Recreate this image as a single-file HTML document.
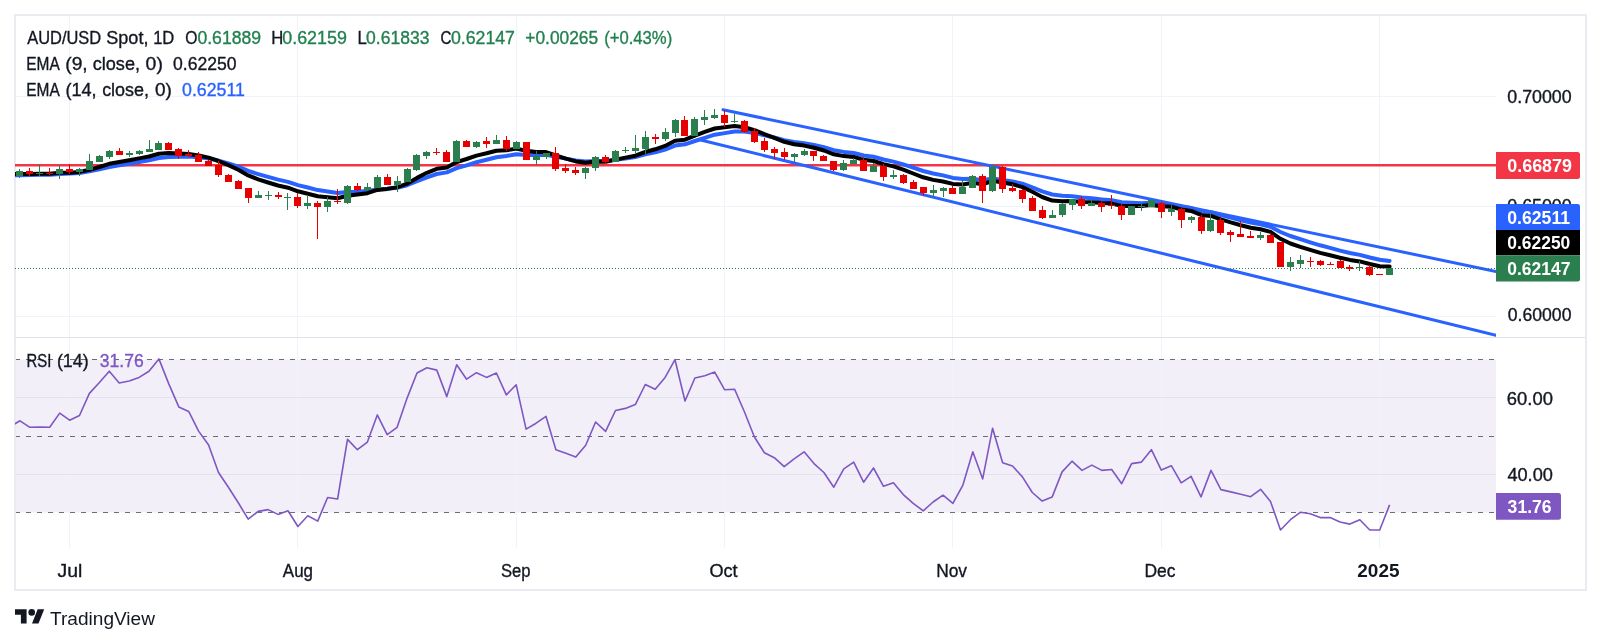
<!DOCTYPE html><html><head><meta charset="utf-8"><style>
html,body{margin:0;padding:0;background:#fff;width:1601px;height:644px;overflow:hidden;position:relative}
</style></head><body>
<svg width="1601" height="644" viewBox="0 0 1601 644" style="position:absolute;left:0;top:0;will-change:transform">
<rect x="15" y="359.5" width="1481" height="153" fill="#f2eff9"/>
<line x1="69.5" y1="15" x2="69.5" y2="548.5" stroke="#f0f3fa" stroke-width="1"/>
<line x1="297.5" y1="15" x2="297.5" y2="548.5" stroke="#f0f3fa" stroke-width="1"/>
<line x1="516.5" y1="15" x2="516.5" y2="548.5" stroke="#f0f3fa" stroke-width="1"/>
<line x1="724.5" y1="15" x2="724.5" y2="548.5" stroke="#f0f3fa" stroke-width="1"/>
<line x1="952.5" y1="15" x2="952.5" y2="548.5" stroke="#f0f3fa" stroke-width="1"/>
<line x1="1161.5" y1="15" x2="1161.5" y2="548.5" stroke="#f0f3fa" stroke-width="1"/>
<line x1="1379.5" y1="15" x2="1379.5" y2="548.5" stroke="#f0f3fa" stroke-width="1"/>
<line x1="15" y1="96.5" x2="1496" y2="96.5" stroke="#f0f3fa" stroke-width="1"/>
<line x1="15" y1="206.5" x2="1496" y2="206.5" stroke="#f0f3fa" stroke-width="1"/>
<line x1="15" y1="316.5" x2="1496" y2="316.5" stroke="#f0f3fa" stroke-width="1"/>
<line x1="15" y1="397.5" x2="1496" y2="397.5" stroke="#e4e1ee" stroke-width="1"/>
<line x1="15" y1="474.5" x2="1496" y2="474.5" stroke="#e4e1ee" stroke-width="1"/>
<line x1="15" y1="359.5" x2="1496" y2="359.5" stroke="#6b6e79" stroke-width="1" stroke-dasharray="5 6"/>
<line x1="15" y1="436.5" x2="1496" y2="436.5" stroke="#6b6e79" stroke-width="1" stroke-dasharray="5 6"/>
<line x1="15" y1="512.5" x2="1496" y2="512.5" stroke="#6b6e79" stroke-width="1" stroke-dasharray="5 6"/>
<rect x="15" y="15" width="1571" height="575" fill="none" stroke="#e9ebf1" stroke-width="2"/>
<line x1="15" y1="337.5" x2="1585" y2="337.5" stroke="#e0e3eb" stroke-width="1"/>
<defs><clipPath id="pc"><rect x="15" y="15" width="1481" height="323"/></clipPath><clipPath id="rc"><rect x="15" y="339" width="1481" height="210"/></clipPath></defs>
<g clip-path="url(#pc)">
<line x1="15" y1="165.2" x2="1496" y2="165.2" stroke="#f23645" stroke-width="2.6"/>
<line x1="723" y1="109.8" x2="1496" y2="271.5" stroke="#2962ff" stroke-width="3" stroke-linecap="round"/>
<line x1="700.6" y1="140" x2="1496" y2="335.4" stroke="#2962ff" stroke-width="3" stroke-linecap="round"/>
<polyline points="10,175.3 20.0,175.3 29.9,175.1 39.8,174.8 49.7,174.7 59.7,173.9 69.6,173.6 79.5,173.0 89.4,171.4 99.4,169.4 109.3,167.0 119.2,165.3 129.2,163.7 139.1,162.0 149.0,160.3 158.9,158.0 168.8,156.9 178.8,156.7 188.7,156.6 198.6,157.3 208.6,158.4 218.5,160.6 228.4,163.4 238.3,166.7 248.2,170.9 258.2,174.1 268.1,176.9 278.0,179.6 288.0,181.9 297.9,185.1 307.8,187.5 317.7,190.1 327.6,191.6 337.6,192.9 347.5,192.0 357.4,191.7 367.4,191.1 377.3,189.3 387.2,188.7 397.1,187.7 407.1,185.2 417.0,181.2 426.9,177.3 436.8,174.0 446.8,172.4 456.7,168.2 466.6,165.3 476.5,162.2 486.5,159.8 496.4,157.2 506.3,156.0 516.2,154.2 526.1,154.9 536.1,155.1 546.0,154.8 555.9,156.7 565.9,158.6 575.8,160.5 585.7,161.5 595.6,160.9 605.6,161.0 615.5,159.7 625.4,158.4 635.3,157.0 645.3,154.3 655.2,152.3 665.1,149.6 675.0,145.6 685.0,144.3 694.9,141.0 704.8,137.8 714.7,134.7 724.7,133.1 734.6,131.5 744.5,131.5 754.4,132.9 764.4,135.2 774.3,137.5 784.2,140.2 794.1,142.0 804.1,143.2 814.0,145.0 823.9,147.2 833.8,150.2 843.8,151.9 853.7,153.0 863.6,155.5 873.5,156.8 883.5,159.5 893.4,161.6 903.3,164.4 913.2,167.7 923.2,171.0 933.1,173.5 943.0,175.4 952.9,177.9 962.9,179.1 972.8,178.7 982.7,180.3 992.6,178.5 1002.6,179.9 1012.5,181.4 1022.4,183.7 1032.3,187.3 1042.2,191.3 1052.2,194.5 1062.1,195.8 1072.0,196.2 1082.0,197.5 1091.9,198.3 1101.8,199.4 1111.7,200.3 1121.7,202.2 1131.6,202.8 1141.5,203.2 1151.4,202.8 1161.3,204.0 1171.3,204.7 1181.2,206.7 1191.1,208.1 1201.0,211.1 1211.0,212.3 1220.9,215.0 1230.8,217.6 1240.8,220.2 1250.7,222.5 1260.6,224.2 1270.5,226.7 1280.5,232.0 1290.4,236.0 1300.3,239.2 1310.2,242.3 1320.2,245.3 1330.1,247.9 1340.0,250.6 1349.9,253.0 1359.8,254.9 1369.8,257.5 1379.7,259.8 1389.6,260.9" fill="none" stroke="#2962ff" stroke-width="4" stroke-linejoin="round" stroke-linecap="round"/>
<polyline points="10,174.1 20.0,174.1 29.9,174.0 39.8,173.8 49.7,173.8 59.7,172.8 69.6,172.7 79.5,171.9 89.4,169.8 99.4,167.0 109.3,163.8 119.2,162.0 129.2,160.2 139.1,158.4 149.0,156.5 158.9,153.8 168.8,153.0 178.8,153.5 188.7,154.0 198.6,155.5 208.6,157.6 218.5,161.0 228.4,165.1 238.3,169.8 248.2,175.4 258.2,179.4 268.1,182.5 278.0,185.5 288.0,187.7 297.9,191.3 307.8,193.7 317.7,196.3 327.6,197.3 337.6,198.2 347.5,195.8 357.4,194.6 367.4,193.2 377.3,189.9 387.2,188.9 397.1,187.3 407.1,183.7 417.0,177.9 426.9,172.8 436.8,168.8 446.8,167.4 456.7,162.1 466.6,159.0 476.5,155.6 486.5,153.3 496.4,150.7 506.3,150.2 516.2,148.6 526.1,150.8 536.1,151.9 546.0,152.1 555.9,155.5 565.9,158.6 575.8,161.4 585.7,162.8 595.6,161.6 605.6,161.7 615.5,159.6 625.4,157.6 635.3,155.7 645.3,152.0 655.2,149.3 665.1,145.9 675.0,140.7 685.0,139.7 694.9,135.6 704.8,131.9 714.7,128.5 724.7,127.3 734.6,126.1 744.5,127.2 754.4,130.1 764.4,134.1 774.3,137.8 784.2,141.8 794.1,144.2 804.1,145.6 814.0,147.8 823.9,150.5 833.8,154.3 843.8,156.1 853.7,156.9 863.6,159.8 873.5,161.0 883.5,164.1 893.4,166.4 903.3,169.7 913.2,173.5 923.2,177.3 933.1,179.9 943.0,181.5 952.9,183.9 962.9,184.5 972.8,182.8 982.7,184.4 992.6,180.9 1002.6,182.5 1012.5,184.2 1022.4,187.1 1032.3,191.8 1042.2,197.0 1052.2,200.6 1062.1,201.3 1072.0,200.9 1082.0,201.9 1091.9,202.2 1101.8,203.1 1111.7,203.6 1121.7,205.9 1131.6,206.0 1141.5,206.0 1151.4,204.9 1161.3,206.2 1171.3,206.8 1181.2,209.4 1191.1,210.9 1201.0,214.9 1211.0,215.9 1220.9,219.3 1230.8,222.4 1240.8,225.2 1250.7,227.7 1260.6,229.2 1270.5,231.9 1280.5,238.8 1290.4,243.5 1300.3,246.9 1310.2,249.9 1320.2,252.9 1330.1,255.3 1340.0,257.8 1349.9,259.9 1359.8,261.4 1369.8,264.0 1379.7,266.2 1389.6,266.6" fill="none" stroke="#000" stroke-width="4" stroke-linejoin="round" stroke-linecap="round"/>
<rect x="19" y="169" width="1" height="9" fill="#2b7f4f"/>
<rect x="16" y="171" width="7" height="5" fill="#2b7f4f"/>
<rect x="29" y="168" width="1" height="8" fill="#e60000"/>
<rect x="26" y="171" width="7" height="3" fill="#e60000"/>
<rect x="39" y="164" width="1" height="12" fill="#2b7f4f"/>
<rect x="36" y="173" width="7" height="1" fill="#2b7f4f"/>
<rect x="49" y="168" width="1" height="7" fill="#e60000"/>
<rect x="46" y="173" width="7" height="1" fill="#e60000"/>
<rect x="59" y="165" width="1" height="14" fill="#2b7f4f"/>
<rect x="56" y="169" width="7" height="5" fill="#2b7f4f"/>
<rect x="69" y="164" width="1" height="10" fill="#e60000"/>
<rect x="66" y="169" width="7" height="3" fill="#e60000"/>
<rect x="79" y="168" width="1" height="8" fill="#2b7f4f"/>
<rect x="76" y="169" width="7" height="3" fill="#2b7f4f"/>
<rect x="89" y="154" width="1" height="16" fill="#2b7f4f"/>
<rect x="86" y="161" width="7" height="9" fill="#2b7f4f"/>
<rect x="99" y="155" width="1" height="7" fill="#2b7f4f"/>
<rect x="96" y="156" width="7" height="6" fill="#2b7f4f"/>
<rect x="109" y="150" width="1" height="9" fill="#2b7f4f"/>
<rect x="106" y="151" width="7" height="6" fill="#2b7f4f"/>
<rect x="119" y="148" width="1" height="7" fill="#e60000"/>
<rect x="116" y="151" width="7" height="4" fill="#e60000"/>
<rect x="129" y="151" width="1" height="6" fill="#2b7f4f"/>
<rect x="126" y="153" width="7" height="2" fill="#2b7f4f"/>
<rect x="139" y="150" width="1" height="5" fill="#2b7f4f"/>
<rect x="136" y="151" width="7" height="3" fill="#2b7f4f"/>
<rect x="149" y="140" width="1" height="12" fill="#2b7f4f"/>
<rect x="146" y="149" width="7" height="3" fill="#2b7f4f"/>
<rect x="158" y="141" width="1" height="9" fill="#2b7f4f"/>
<rect x="155" y="143" width="7" height="7" fill="#2b7f4f"/>
<rect x="168" y="142" width="1" height="8" fill="#e60000"/>
<rect x="165" y="143" width="7" height="7" fill="#e60000"/>
<rect x="178" y="148" width="1" height="11" fill="#e60000"/>
<rect x="175" y="149" width="7" height="7" fill="#e60000"/>
<rect x="188" y="150" width="1" height="7" fill="#e60000"/>
<rect x="185" y="154" width="7" height="2" fill="#e60000"/>
<rect x="198" y="152" width="1" height="10" fill="#e60000"/>
<rect x="195" y="155" width="7" height="7" fill="#e60000"/>
<rect x="208" y="160" width="1" height="6" fill="#e60000"/>
<rect x="205" y="161" width="7" height="5" fill="#e60000"/>
<rect x="218" y="161" width="1" height="16" fill="#e60000"/>
<rect x="215" y="165" width="7" height="10" fill="#e60000"/>
<rect x="228" y="174" width="1" height="8" fill="#e60000"/>
<rect x="225" y="175" width="7" height="7" fill="#e60000"/>
<rect x="238" y="180" width="1" height="9" fill="#e60000"/>
<rect x="235" y="181" width="7" height="8" fill="#e60000"/>
<rect x="248" y="188" width="1" height="15" fill="#e60000"/>
<rect x="245" y="188" width="7" height="10" fill="#e60000"/>
<rect x="258" y="191" width="1" height="7" fill="#2b7f4f"/>
<rect x="255" y="195" width="7" height="3" fill="#2b7f4f"/>
<rect x="268" y="191" width="1" height="9" fill="#2b7f4f"/>
<rect x="265" y="195" width="7" height="1" fill="#2b7f4f"/>
<rect x="278" y="192" width="1" height="7" fill="#e60000"/>
<rect x="275" y="195" width="7" height="2" fill="#e60000"/>
<rect x="287" y="193" width="1" height="17" fill="#2b7f4f"/>
<rect x="284" y="197" width="7" height="1" fill="#2b7f4f"/>
<rect x="297" y="193" width="1" height="15" fill="#e60000"/>
<rect x="294" y="197" width="7" height="9" fill="#e60000"/>
<rect x="307" y="195" width="1" height="14" fill="#2b7f4f"/>
<rect x="304" y="203" width="7" height="3" fill="#2b7f4f"/>
<rect x="317" y="201" width="1" height="38" fill="#e60000"/>
<rect x="314" y="203" width="7" height="4" fill="#e60000"/>
<rect x="327" y="197" width="1" height="15" fill="#2b7f4f"/>
<rect x="324" y="201" width="7" height="6" fill="#2b7f4f"/>
<rect x="337" y="189" width="1" height="15" fill="#e60000"/>
<rect x="334" y="201" width="7" height="1" fill="#e60000"/>
<rect x="347" y="185" width="1" height="19" fill="#2b7f4f"/>
<rect x="344" y="186" width="7" height="17" fill="#2b7f4f"/>
<rect x="357" y="183" width="1" height="8" fill="#e60000"/>
<rect x="354" y="186" width="7" height="4" fill="#e60000"/>
<rect x="367" y="183" width="1" height="8" fill="#2b7f4f"/>
<rect x="364" y="187" width="7" height="3" fill="#2b7f4f"/>
<rect x="377" y="175" width="1" height="13" fill="#2b7f4f"/>
<rect x="374" y="177" width="7" height="11" fill="#2b7f4f"/>
<rect x="387" y="174" width="1" height="11" fill="#e60000"/>
<rect x="384" y="177" width="7" height="8" fill="#e60000"/>
<rect x="397" y="176" width="1" height="16" fill="#2b7f4f"/>
<rect x="394" y="181" width="7" height="4" fill="#2b7f4f"/>
<rect x="407" y="168" width="1" height="14" fill="#2b7f4f"/>
<rect x="404" y="169" width="7" height="13" fill="#2b7f4f"/>
<rect x="416" y="154" width="1" height="17" fill="#2b7f4f"/>
<rect x="413" y="155" width="7" height="15" fill="#2b7f4f"/>
<rect x="426" y="151" width="1" height="8" fill="#2b7f4f"/>
<rect x="423" y="152" width="7" height="4" fill="#2b7f4f"/>
<rect x="436" y="148" width="1" height="7" fill="#e60000"/>
<rect x="433" y="152" width="7" height="1" fill="#e60000"/>
<rect x="446" y="150" width="1" height="12" fill="#e60000"/>
<rect x="443" y="152" width="7" height="10" fill="#e60000"/>
<rect x="456" y="140" width="1" height="22" fill="#2b7f4f"/>
<rect x="453" y="141" width="7" height="21" fill="#2b7f4f"/>
<rect x="466" y="140" width="1" height="7" fill="#e60000"/>
<rect x="463" y="141" width="7" height="6" fill="#e60000"/>
<rect x="476" y="141" width="1" height="7" fill="#2b7f4f"/>
<rect x="473" y="142" width="7" height="5" fill="#2b7f4f"/>
<rect x="486" y="137" width="1" height="11" fill="#e60000"/>
<rect x="483" y="141" width="7" height="3" fill="#e60000"/>
<rect x="496" y="135" width="1" height="9" fill="#2b7f4f"/>
<rect x="493" y="140" width="7" height="4" fill="#2b7f4f"/>
<rect x="506" y="136" width="1" height="15" fill="#e60000"/>
<rect x="503" y="140" width="7" height="9" fill="#e60000"/>
<rect x="516" y="141" width="1" height="8" fill="#2b7f4f"/>
<rect x="513" y="142" width="7" height="7" fill="#2b7f4f"/>
<rect x="526" y="142" width="1" height="18" fill="#e60000"/>
<rect x="523" y="142" width="7" height="18" fill="#e60000"/>
<rect x="536" y="151" width="1" height="14" fill="#2b7f4f"/>
<rect x="533" y="156" width="7" height="4" fill="#2b7f4f"/>
<rect x="546" y="153" width="1" height="6" fill="#2b7f4f"/>
<rect x="543" y="153" width="7" height="4" fill="#2b7f4f"/>
<rect x="555" y="147" width="1" height="24" fill="#e60000"/>
<rect x="552" y="153" width="7" height="16" fill="#e60000"/>
<rect x="565" y="164" width="1" height="9" fill="#e60000"/>
<rect x="562" y="168" width="7" height="3" fill="#e60000"/>
<rect x="575" y="167" width="1" height="8" fill="#e60000"/>
<rect x="572" y="170" width="7" height="3" fill="#e60000"/>
<rect x="585" y="167" width="1" height="12" fill="#2b7f4f"/>
<rect x="582" y="168" width="7" height="5" fill="#2b7f4f"/>
<rect x="595" y="156" width="1" height="15" fill="#2b7f4f"/>
<rect x="592" y="157" width="7" height="11" fill="#2b7f4f"/>
<rect x="605" y="155" width="1" height="9" fill="#e60000"/>
<rect x="602" y="157" width="7" height="5" fill="#e60000"/>
<rect x="615" y="150" width="1" height="12" fill="#2b7f4f"/>
<rect x="612" y="151" width="7" height="11" fill="#2b7f4f"/>
<rect x="625" y="147" width="1" height="6" fill="#2b7f4f"/>
<rect x="622" y="150" width="7" height="1" fill="#2b7f4f"/>
<rect x="635" y="135" width="1" height="18" fill="#2b7f4f"/>
<rect x="632" y="148" width="7" height="3" fill="#2b7f4f"/>
<rect x="645" y="131" width="1" height="23" fill="#2b7f4f"/>
<rect x="642" y="137" width="7" height="12" fill="#2b7f4f"/>
<rect x="655" y="134" width="1" height="10" fill="#e60000"/>
<rect x="652" y="137" width="7" height="2" fill="#e60000"/>
<rect x="665" y="128" width="1" height="13" fill="#2b7f4f"/>
<rect x="662" y="132" width="7" height="7" fill="#2b7f4f"/>
<rect x="675" y="119" width="1" height="18" fill="#2b7f4f"/>
<rect x="672" y="120" width="7" height="13" fill="#2b7f4f"/>
<rect x="684" y="116" width="1" height="20" fill="#e60000"/>
<rect x="681" y="120" width="7" height="16" fill="#e60000"/>
<rect x="694" y="117" width="1" height="19" fill="#2b7f4f"/>
<rect x="691" y="119" width="7" height="17" fill="#2b7f4f"/>
<rect x="704" y="110" width="1" height="15" fill="#2b7f4f"/>
<rect x="701" y="117" width="7" height="3" fill="#2b7f4f"/>
<rect x="714" y="109" width="1" height="10" fill="#2b7f4f"/>
<rect x="711" y="115" width="7" height="3" fill="#2b7f4f"/>
<rect x="724" y="110" width="1" height="17" fill="#e60000"/>
<rect x="721" y="115" width="7" height="8" fill="#e60000"/>
<rect x="734" y="114" width="1" height="9" fill="#2b7f4f"/>
<rect x="731" y="121" width="7" height="1" fill="#2b7f4f"/>
<rect x="744" y="120" width="1" height="13" fill="#e60000"/>
<rect x="741" y="121" width="7" height="11" fill="#e60000"/>
<rect x="754" y="128" width="1" height="15" fill="#e60000"/>
<rect x="751" y="131" width="7" height="11" fill="#e60000"/>
<rect x="764" y="138" width="1" height="14" fill="#e60000"/>
<rect x="761" y="141" width="7" height="9" fill="#e60000"/>
<rect x="774" y="147" width="1" height="12" fill="#e60000"/>
<rect x="771" y="149" width="7" height="4" fill="#e60000"/>
<rect x="784" y="148" width="1" height="12" fill="#e60000"/>
<rect x="781" y="152" width="7" height="5" fill="#e60000"/>
<rect x="794" y="153" width="1" height="9" fill="#2b7f4f"/>
<rect x="791" y="154" width="7" height="3" fill="#2b7f4f"/>
<rect x="804" y="149" width="1" height="7" fill="#2b7f4f"/>
<rect x="801" y="151" width="7" height="4" fill="#2b7f4f"/>
<rect x="813" y="151" width="1" height="10" fill="#e60000"/>
<rect x="810" y="151" width="7" height="5" fill="#e60000"/>
<rect x="823" y="155" width="1" height="6" fill="#e60000"/>
<rect x="820" y="156" width="7" height="5" fill="#e60000"/>
<rect x="833" y="161" width="1" height="10" fill="#e60000"/>
<rect x="830" y="161" width="7" height="9" fill="#e60000"/>
<rect x="843" y="160" width="1" height="11" fill="#2b7f4f"/>
<rect x="840" y="163" width="7" height="7" fill="#2b7f4f"/>
<rect x="853" y="158" width="1" height="6" fill="#2b7f4f"/>
<rect x="850" y="160" width="7" height="4" fill="#2b7f4f"/>
<rect x="863" y="157" width="1" height="14" fill="#e60000"/>
<rect x="860" y="160" width="7" height="11" fill="#e60000"/>
<rect x="873" y="163" width="1" height="9" fill="#2b7f4f"/>
<rect x="870" y="166" width="7" height="6" fill="#2b7f4f"/>
<rect x="883" y="164" width="1" height="17" fill="#e60000"/>
<rect x="880" y="166" width="7" height="11" fill="#e60000"/>
<rect x="893" y="170" width="1" height="9" fill="#2b7f4f"/>
<rect x="890" y="175" width="7" height="2" fill="#2b7f4f"/>
<rect x="903" y="174" width="1" height="10" fill="#e60000"/>
<rect x="900" y="175" width="7" height="8" fill="#e60000"/>
<rect x="913" y="180" width="1" height="9" fill="#e60000"/>
<rect x="910" y="182" width="7" height="7" fill="#e60000"/>
<rect x="923" y="187" width="1" height="9" fill="#e60000"/>
<rect x="920" y="187" width="7" height="6" fill="#e60000"/>
<rect x="933" y="185" width="1" height="12" fill="#2b7f4f"/>
<rect x="930" y="190" width="7" height="3" fill="#2b7f4f"/>
<rect x="943" y="187" width="1" height="10" fill="#2b7f4f"/>
<rect x="940" y="188" width="7" height="3" fill="#2b7f4f"/>
<rect x="952" y="186" width="1" height="8" fill="#e60000"/>
<rect x="949" y="188" width="7" height="6" fill="#e60000"/>
<rect x="962" y="180" width="1" height="14" fill="#2b7f4f"/>
<rect x="959" y="187" width="7" height="7" fill="#2b7f4f"/>
<rect x="972" y="175" width="1" height="13" fill="#2b7f4f"/>
<rect x="969" y="176" width="7" height="12" fill="#2b7f4f"/>
<rect x="982" y="174" width="1" height="29" fill="#e60000"/>
<rect x="979" y="176" width="7" height="15" fill="#e60000"/>
<rect x="992" y="165" width="1" height="27" fill="#2b7f4f"/>
<rect x="989" y="167" width="7" height="24" fill="#2b7f4f"/>
<rect x="1002" y="166" width="1" height="27" fill="#e60000"/>
<rect x="999" y="167" width="7" height="22" fill="#e60000"/>
<rect x="1012" y="184" width="1" height="8" fill="#e60000"/>
<rect x="1009" y="188" width="7" height="3" fill="#e60000"/>
<rect x="1022" y="189" width="1" height="14" fill="#e60000"/>
<rect x="1019" y="190" width="7" height="9" fill="#e60000"/>
<rect x="1032" y="196" width="1" height="15" fill="#e60000"/>
<rect x="1029" y="198" width="7" height="13" fill="#e60000"/>
<rect x="1042" y="206" width="1" height="13" fill="#e60000"/>
<rect x="1039" y="210" width="7" height="8" fill="#e60000"/>
<rect x="1052" y="210" width="1" height="8" fill="#2b7f4f"/>
<rect x="1049" y="215" width="7" height="3" fill="#2b7f4f"/>
<rect x="1062" y="203" width="1" height="14" fill="#2b7f4f"/>
<rect x="1059" y="204" width="7" height="11" fill="#2b7f4f"/>
<rect x="1072" y="199" width="1" height="11" fill="#2b7f4f"/>
<rect x="1069" y="199" width="7" height="6" fill="#2b7f4f"/>
<rect x="1081" y="196" width="1" height="13" fill="#e60000"/>
<rect x="1078" y="199" width="7" height="7" fill="#e60000"/>
<rect x="1091" y="199" width="1" height="7" fill="#2b7f4f"/>
<rect x="1088" y="203" width="7" height="3" fill="#2b7f4f"/>
<rect x="1101" y="201" width="1" height="11" fill="#e60000"/>
<rect x="1098" y="203" width="7" height="4" fill="#e60000"/>
<rect x="1111" y="195" width="1" height="14" fill="#e60000"/>
<rect x="1108" y="205" width="7" height="1" fill="#e60000"/>
<rect x="1121" y="204" width="1" height="16" fill="#e60000"/>
<rect x="1118" y="206" width="7" height="9" fill="#e60000"/>
<rect x="1131" y="206" width="1" height="9" fill="#2b7f4f"/>
<rect x="1128" y="206" width="7" height="9" fill="#2b7f4f"/>
<rect x="1141" y="204" width="1" height="7" fill="#2b7f4f"/>
<rect x="1138" y="206" width="7" height="1" fill="#2b7f4f"/>
<rect x="1151" y="200" width="1" height="7" fill="#2b7f4f"/>
<rect x="1148" y="200" width="7" height="7" fill="#2b7f4f"/>
<rect x="1161" y="202" width="1" height="16" fill="#e60000"/>
<rect x="1158" y="203" width="7" height="9" fill="#e60000"/>
<rect x="1171" y="205" width="1" height="11" fill="#2b7f4f"/>
<rect x="1168" y="209" width="7" height="3" fill="#2b7f4f"/>
<rect x="1181" y="208" width="1" height="20" fill="#e60000"/>
<rect x="1178" y="209" width="7" height="11" fill="#e60000"/>
<rect x="1191" y="216" width="1" height="7" fill="#2b7f4f"/>
<rect x="1188" y="217" width="7" height="3" fill="#2b7f4f"/>
<rect x="1201" y="215" width="1" height="19" fill="#e60000"/>
<rect x="1198" y="217" width="7" height="14" fill="#e60000"/>
<rect x="1210" y="212" width="1" height="20" fill="#2b7f4f"/>
<rect x="1207" y="220" width="7" height="11" fill="#2b7f4f"/>
<rect x="1220" y="218" width="1" height="17" fill="#e60000"/>
<rect x="1217" y="220" width="7" height="13" fill="#e60000"/>
<rect x="1230" y="230" width="1" height="12" fill="#e60000"/>
<rect x="1227" y="232" width="7" height="3" fill="#e60000"/>
<rect x="1240" y="221" width="1" height="16" fill="#e60000"/>
<rect x="1237" y="234" width="7" height="3" fill="#e60000"/>
<rect x="1250" y="231" width="1" height="7" fill="#e60000"/>
<rect x="1247" y="236" width="7" height="2" fill="#e60000"/>
<rect x="1260" y="232" width="1" height="8" fill="#2b7f4f"/>
<rect x="1257" y="235" width="7" height="3" fill="#2b7f4f"/>
<rect x="1270" y="233" width="1" height="10" fill="#e60000"/>
<rect x="1267" y="235" width="7" height="8" fill="#e60000"/>
<rect x="1280" y="242" width="1" height="25" fill="#e60000"/>
<rect x="1277" y="242" width="7" height="25" fill="#e60000"/>
<rect x="1290" y="257" width="1" height="14" fill="#2b7f4f"/>
<rect x="1287" y="262" width="7" height="5" fill="#2b7f4f"/>
<rect x="1300" y="255" width="1" height="13" fill="#2b7f4f"/>
<rect x="1297" y="260" width="7" height="4" fill="#2b7f4f"/>
<rect x="1310" y="257" width="1" height="10" fill="#e60000"/>
<rect x="1307" y="261" width="7" height="1" fill="#e60000"/>
<rect x="1320" y="260" width="1" height="6" fill="#e60000"/>
<rect x="1317" y="261" width="7" height="4" fill="#e60000"/>
<rect x="1330" y="262" width="1" height="3" fill="#e60000"/>
<rect x="1327" y="264" width="7" height="1" fill="#e60000"/>
<rect x="1340" y="260" width="1" height="8" fill="#e60000"/>
<rect x="1337" y="261" width="7" height="7" fill="#e60000"/>
<rect x="1349" y="265" width="1" height="6" fill="#e60000"/>
<rect x="1346" y="267" width="7" height="2" fill="#e60000"/>
<rect x="1359" y="261" width="1" height="10" fill="#2b7f4f"/>
<rect x="1356" y="267" width="7" height="1" fill="#2b7f4f"/>
<rect x="1369" y="265" width="1" height="11" fill="#e60000"/>
<rect x="1366" y="267" width="7" height="8" fill="#e60000"/>
<rect x="1379" y="274" width="1" height="1" fill="#e60000"/>
<rect x="1376" y="274" width="7" height="1" fill="#e60000"/>
<rect x="1389" y="268" width="1" height="7" fill="#2b7f4f"/>
<rect x="1386" y="268" width="7" height="7" fill="#2b7f4f"/>
<line x1="15" y1="268.5" x2="1496" y2="268.5" stroke="#2a7f52" stroke-width="1" stroke-dasharray="1 2"/>
</g>
<polyline clip-path="url(#rc)" points="10,426.8 20.0,420.8 29.9,427.3 39.8,427.0 49.7,427.3 59.7,413.1 69.6,420.2 79.5,415.5 89.4,393.4 99.4,382.5 109.3,371.2 119.2,383.0 129.2,381.0 139.1,377.4 149.0,371.2 158.9,358.9 168.8,383.9 178.8,406.9 188.7,411.4 198.6,431.1 208.6,445.0 218.5,472.5 228.4,487.2 238.3,502.8 248.2,519.1 258.2,511.4 268.1,509.6 278.0,514.4 288.0,510.8 297.9,526.5 307.8,515.8 317.7,521.1 327.6,497.5 337.6,499.0 347.5,439.4 357.4,449.7 367.4,442.1 377.3,414.9 387.2,434.7 397.1,427.3 407.1,398.1 417.0,373.0 426.9,367.7 436.8,370.1 446.8,396.6 456.7,364.8 466.6,379.2 476.5,372.7 486.5,377.4 496.4,373.0 506.3,394.9 516.2,384.8 526.1,429.1 536.1,423.2 546.0,416.4 555.9,449.7 565.9,453.3 575.8,457.1 585.7,445.3 595.6,422.0 605.6,431.4 615.5,410.5 625.4,408.4 635.3,404.6 645.3,384.5 655.2,389.2 665.1,377.4 675.0,359.7 685.0,401.0 694.9,378.0 704.8,375.7 714.7,372.1 724.7,389.8 734.6,389.2 744.5,412.0 754.4,437.0 764.4,452.7 774.3,457.7 784.2,466.6 794.1,458.9 804.1,451.8 814.0,463.6 823.9,472.5 833.8,487.2 843.8,468.9 853.7,462.1 863.6,482.2 873.5,468.0 883.5,486.3 893.4,482.8 903.3,494.6 913.2,503.4 923.2,510.8 933.1,502.0 943.0,495.2 952.9,503.4 962.9,485.1 972.8,451.8 982.7,478.9 992.6,428.2 1002.6,462.7 1012.5,466.0 1022.4,476.9 1032.3,492.5 1042.2,501.1 1052.2,496.9 1062.1,471.9 1072.0,461.2 1082.0,470.4 1091.9,465.1 1101.8,470.4 1111.7,469.5 1121.7,483.7 1131.6,463.6 1141.5,462.1 1151.4,449.7 1161.3,470.1 1171.3,465.7 1181.2,482.8 1191.1,476.3 1201.0,496.9 1211.0,470.4 1220.9,489.6 1230.8,491.9 1240.8,494.3 1250.7,496.7 1260.6,489.3 1270.5,501.4 1280.5,530.0 1290.4,519.7 1300.3,512.3 1310.2,513.8 1320.2,517.6 1330.1,517.6 1340.0,522.0 1349.9,524.1 1359.8,519.7 1369.8,530.0 1379.7,530.0 1389.6,504.9" fill="none" stroke="#7e57c2" stroke-width="1.6" stroke-linejoin="round"/>
<g font-family="Liberation Sans, sans-serif">
<text x="27.27" y="43.7" font-size="18.3" fill="#131722" font-weight="normal" text-anchor="start" textLength="73.92" lengthAdjust="spacingAndGlyphs" stroke="#131722" stroke-width="0.35">AUD/USD</text>
<text x="106.28" y="43.7" font-size="18.3" fill="#131722" font-weight="normal" text-anchor="start" textLength="42.14" lengthAdjust="spacingAndGlyphs" stroke="#131722" stroke-width="0.35">Spot,</text>
<text x="153.14" y="43.7" font-size="18.3" fill="#131722" font-weight="normal" text-anchor="start" textLength="21.15" lengthAdjust="spacingAndGlyphs" stroke="#131722" stroke-width="0.35">1D</text>
<text x="185.16" y="43.7" font-size="18.3" fill="#131722" font-weight="normal" text-anchor="start" textLength="12.19" lengthAdjust="spacingAndGlyphs" stroke="#131722" stroke-width="0.35">O</text>
<text x="197.41" y="43.7" font-size="18.3" fill="#22804f" font-weight="normal" text-anchor="start" textLength="63.72" lengthAdjust="spacingAndGlyphs" stroke="#22804f" stroke-width="0.35">0.61889</text>
<text x="271.23" y="43.7" font-size="18.3" fill="#131722" font-weight="normal" text-anchor="start" textLength="12.02" lengthAdjust="spacingAndGlyphs" stroke="#131722" stroke-width="0.35">H</text>
<text x="282.30" y="43.7" font-size="18.3" fill="#22804f" font-weight="normal" text-anchor="start" textLength="64.54" lengthAdjust="spacingAndGlyphs" stroke="#22804f" stroke-width="0.35">0.62159</text>
<text x="357.52" y="43.7" font-size="18.3" fill="#131722" font-weight="normal" text-anchor="start" textLength="9.33" lengthAdjust="spacingAndGlyphs" stroke="#131722" stroke-width="0.35">L</text>
<text x="366.12" y="43.7" font-size="18.3" fill="#22804f" font-weight="normal" text-anchor="start" textLength="63.35" lengthAdjust="spacingAndGlyphs" stroke="#22804f" stroke-width="0.35">0.61833</text>
<text x="440.43" y="43.7" font-size="18.3" fill="#131722" font-weight="normal" text-anchor="start" textLength="10.95" lengthAdjust="spacingAndGlyphs" stroke="#131722" stroke-width="0.35">C</text>
<text x="450.91" y="43.7" font-size="18.3" fill="#22804f" font-weight="normal" text-anchor="start" textLength="64.08" lengthAdjust="spacingAndGlyphs" stroke="#22804f" stroke-width="0.35">0.62147</text>
<text x="525.35" y="43.7" font-size="18.3" fill="#22804f" font-weight="normal" text-anchor="start" textLength="72.77" lengthAdjust="spacingAndGlyphs" stroke="#22804f" stroke-width="0.35">+0.00265</text>
<text x="604.17" y="43.7" font-size="18.3" fill="#22804f" font-weight="normal" text-anchor="start" textLength="68.07" lengthAdjust="spacingAndGlyphs" stroke="#22804f" stroke-width="0.35">(+0.43%)</text>
<text x="26.23" y="70" font-size="18.3" fill="#131722" font-weight="normal" text-anchor="start" textLength="33.50" lengthAdjust="spacingAndGlyphs" stroke="#131722" stroke-width="0.35">EMA</text>
<text x="65.31" y="70" font-size="18.3" fill="#131722" font-weight="normal" text-anchor="start" textLength="22.42" lengthAdjust="spacingAndGlyphs" stroke="#131722" stroke-width="0.35">(9,</text>
<text x="92.73" y="70" font-size="18.3" fill="#131722" font-weight="normal" text-anchor="start" textLength="47.30" lengthAdjust="spacingAndGlyphs" stroke="#131722" stroke-width="0.35">close,</text>
<text x="145.64" y="70" font-size="18.3" fill="#131722" font-weight="normal" text-anchor="start" textLength="17.26" lengthAdjust="spacingAndGlyphs" stroke="#131722" stroke-width="0.35">0)</text>
<text x="173.01" y="70" font-size="18.3" fill="#131722" font-weight="normal" text-anchor="start" textLength="63.57" lengthAdjust="spacingAndGlyphs" stroke="#131722" stroke-width="0.35">0.62250</text>
<text x="26.23" y="95.7" font-size="18.3" fill="#131722" font-weight="normal" text-anchor="start" textLength="33.50" lengthAdjust="spacingAndGlyphs" stroke="#131722" stroke-width="0.35">EMA</text>
<text x="65.38" y="95.7" font-size="18.3" fill="#131722" font-weight="normal" text-anchor="start" textLength="31.25" lengthAdjust="spacingAndGlyphs" stroke="#131722" stroke-width="0.35">(14,</text>
<text x="102.14" y="95.7" font-size="18.3" fill="#131722" font-weight="normal" text-anchor="start" textLength="46.87" lengthAdjust="spacingAndGlyphs" stroke="#131722" stroke-width="0.35">close,</text>
<text x="154.96" y="95.7" font-size="18.3" fill="#131722" font-weight="normal" text-anchor="start" textLength="16.92" lengthAdjust="spacingAndGlyphs" stroke="#131722" stroke-width="0.35">0)</text>
<text x="182.02" y="95.7" font-size="18.3" fill="#2962ff" font-weight="normal" text-anchor="start" textLength="62.93" lengthAdjust="spacingAndGlyphs" stroke="#2962ff" stroke-width="0.35">0.62511</text>
<text x="26.58" y="366.8" font-size="18.3" fill="#131722" font-weight="normal" text-anchor="start" textLength="24.79" lengthAdjust="spacingAndGlyphs" stroke="#131722" stroke-width="0.35">RSI</text>
<text x="56.89" y="366.8" font-size="18.3" fill="#131722" font-weight="normal" text-anchor="start" textLength="31.71" lengthAdjust="spacingAndGlyphs" stroke="#131722" stroke-width="0.35">(14)</text>
<text x="99.83" y="366.8" font-size="18.3" fill="#7e57c2" font-weight="normal" text-anchor="start" textLength="43.94" lengthAdjust="spacingAndGlyphs" stroke="#7e57c2" stroke-width="0.35">31.76</text>
<text x="1507.30" y="102.6" font-size="18.3" fill="#131722" font-weight="normal" text-anchor="start" textLength="64.39" lengthAdjust="spacingAndGlyphs" stroke="#131722" stroke-width="0.35">0.70000</text>
<text x="1507.30" y="212.3" font-size="18.3" fill="#131722" font-weight="normal" text-anchor="start" textLength="64.39" lengthAdjust="spacingAndGlyphs" stroke="#131722" stroke-width="0.35">0.65000</text>
<text x="1507.81" y="321.1" font-size="18.3" fill="#131722" font-weight="normal" text-anchor="start" textLength="63.68" lengthAdjust="spacingAndGlyphs" stroke="#131722" stroke-width="0.35">0.60000</text>
<text x="1506.87" y="404.6" font-size="18.3" fill="#131722" font-weight="normal" text-anchor="start" textLength="46.05" lengthAdjust="spacingAndGlyphs" stroke="#131722" stroke-width="0.35">60.00</text>
<text x="1507.38" y="481.3" font-size="18.3" fill="#131722" font-weight="normal" text-anchor="start" textLength="45.53" lengthAdjust="spacingAndGlyphs" stroke="#131722" stroke-width="0.35">40.00</text>
<text x="57.50" y="577.1" font-size="18.3" fill="#131722" font-weight="normal" text-anchor="start" textLength="24.80" lengthAdjust="spacingAndGlyphs" stroke="#131722" stroke-width="0.35">Jul</text>
<text x="282.87" y="577.1" font-size="18.3" fill="#131722" font-weight="normal" text-anchor="start" textLength="30.12" lengthAdjust="spacingAndGlyphs" stroke="#131722" stroke-width="0.35">Aug</text>
<text x="500.95" y="577.1" font-size="18.3" fill="#131722" font-weight="normal" text-anchor="start" textLength="29.55" lengthAdjust="spacingAndGlyphs" stroke="#131722" stroke-width="0.35">Sep</text>
<text x="709.44" y="577.1" font-size="18.3" fill="#131722" font-weight="normal" text-anchor="start" textLength="28.19" lengthAdjust="spacingAndGlyphs" stroke="#131722" stroke-width="0.35">Oct</text>
<text x="936.18" y="577.1" font-size="18.3" fill="#131722" font-weight="normal" text-anchor="start" textLength="30.88" lengthAdjust="spacingAndGlyphs" stroke="#131722" stroke-width="0.35">Nov</text>
<text x="1144.47" y="577.1" font-size="18.3" fill="#131722" font-weight="normal" text-anchor="start" textLength="30.99" lengthAdjust="spacingAndGlyphs" stroke="#131722" stroke-width="0.35">Dec</text>
<text x="1357.34" y="577.1" font-size="18.3" fill="#131722" font-weight="bold" text-anchor="start" textLength="42.19" lengthAdjust="spacingAndGlyphs">2025</text>
</g>
<g font-family="Liberation Sans, sans-serif">
<path d="M1496,152 H1577.5 a2.5,2.5 0 0 1 2.5,2.5 V176.4 a2.5,2.5 0 0 1 -2.5,2.5 H1496 Z" fill="#f23645"/>
<text x="1507.29" y="172.25" font-size="17.5" fill="#fff" font-weight="bold" text-anchor="start" textLength="64.67" lengthAdjust="spacingAndGlyphs">0.66879</text>
<path d="M1496,204.1 H1577.5 a2.5,2.5 0 0 1 2.5,2.5 V230.1  H1496 Z" fill="#2962ff"/>
<text x="1507.31" y="223.9" font-size="17.5" fill="#fff" font-weight="bold" text-anchor="start" textLength="62.77" lengthAdjust="spacingAndGlyphs">0.62511</text>
<path d="M1496,230.1 H1580  V255.2  H1496 Z" fill="#000000"/>
<text x="1507.31" y="249.45" font-size="17.5" fill="#fff" font-weight="bold" text-anchor="start" textLength="63.00" lengthAdjust="spacingAndGlyphs">0.62250</text>
<path d="M1496,255.2 H1580  V279.1 a2.5,2.5 0 0 1 -2.5,2.5 H1496 Z" fill="#2b7f4f"/>
<text x="1507.31" y="275.2" font-size="17.5" fill="#fff" font-weight="bold" text-anchor="start" textLength="63.06" lengthAdjust="spacingAndGlyphs">0.62147</text>
<path d="M1496,493 H1558.5 a2.5,2.5 0 0 1 2.5,2.5 V517.2 a2.5,2.5 0 0 1 -2.5,2.5 H1496 Z" fill="#7e57c2"/>
<text x="1507.60" y="513.15" font-size="17.5" fill="#fff" font-weight="bold" text-anchor="start" textLength="44.04" lengthAdjust="spacingAndGlyphs">31.76</text>
<path d="M15,609.2 H26.6 V623.6 H20.9 V614.7 H15 Z" fill="#131722"/>
<circle cx="31.7" cy="612.4" r="3.3" fill="#131722"/>
<path d="M37.7,609.2 H44.2 L38.5,623.6 H32 Z" fill="#131722"/>
<text x="50.08" y="624.7" font-size="18.7" fill="#131722" font-weight="normal" text-anchor="start" textLength="104.88" lengthAdjust="spacingAndGlyphs">TradingView</text>
</g>
</svg>
</body></html>
